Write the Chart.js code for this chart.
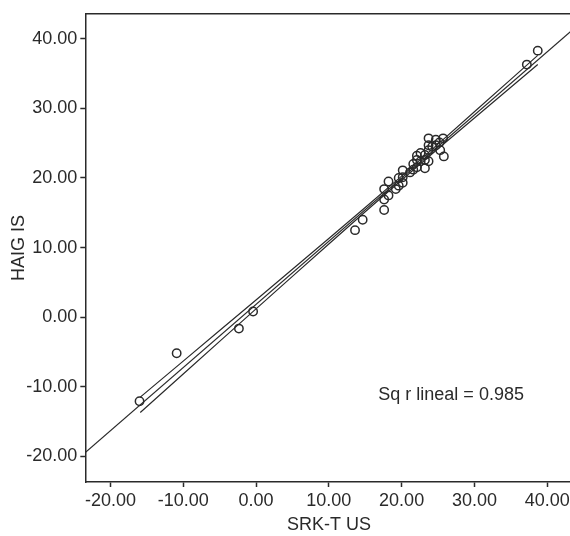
<!DOCTYPE html>
<html>
<head>
<meta charset="utf-8">
<script src="https://cdn.jsdelivr.net/npm/chart.js@4/dist/chart.umd.min.js"></script>
<style>
  html, body { margin: 0; padding: 0; background: #fff; }
  #wrap { width: 570px; height: 536px; overflow: hidden; }
</style>
</head>
<body>
<div id="wrap"><canvas id="scatterChart" width="586" height="536"></canvas></div>
<script>
// observed values, SRK-T US vs HAIG IS
const srktUs = [-16.0, -10.9, -2.35, -0.4, 13.6, 14.65, 17.6, 17.6, 18.2, 17.6,
    18.2, 19.2, 19.6, 19.6, 20.15, 20.15, 20.15, 21.15, 21.6, 21.6,
    22.1, 22.1, 22.1, 22.6, 22.6, 23.2, 23.2, 23.2, 23.7, 23.7,
    23.7, 23.7, 24.2, 24.7, 24.7, 25.2, 25.3, 25.7, 25.8, 37.2, 38.7];
const haigIs = [-12.1, -5.2, -1.65, 0.8, 12.5, 14.0, 15.4, 16.9, 17.5, 18.4,
    19.5, 18.4, 18.9, 20.0, 19.3, 20.1, 21.1, 20.8, 21.2, 22.0,
    21.55, 22.6, 23.2, 23.6, 22.4, 21.4, 22.6, 23.3, 22.4, 24.0,
    24.7, 25.7, 24.5, 25.5, 24.7, 25.1, 24.0, 25.7, 23.1, 36.3, 38.3];

// fit line (whole axis) and 95% mean band
const fitX = [-23.5, 43.5];
const fitY = [-19.5, 41.3];
const bandX = [-15.9, -10, -5, 0, 5, 10, 15, 20, 25, 30, 35, 38.7];
const bandUpper = [-11.5, -6.33, -1.93, 2.47, 6.88, 11.3, 15.76, 20.27, 24.86, 29.51, 34.17, 37.63];
const bandLower = [-13.7, -8.17, -3.49, 1.19, 5.86, 10.52, 15.14, 19.71, 24.2, 28.63, 33.05, 36.31];

const xTicks = [-20, -10, 0, 10, 20, 30, 40];
const yTicks = [-20, -10, 0, 10, 20, 30, 40];
const rSquaredLabel = 'Sq r lineal = 0.985';

const ink = '#2a2a2a';

function toPoints(xs, ys) {
    return xs.map((x, i) => ({ x: x, y: ys[i] }));
}

const lineStyle = {
    showLine: true,
    pointRadius: 0,
    borderColor: ink,
    borderWidth: 1.2,
    fill: false
};

// top edge of the box + r squared note
const framePlugin = {
    id: 'frame',
    afterDraw(chart) {
        const { ctx, chartArea, scales } = chart;
        ctx.save();
        ctx.strokeStyle = ink;
        ctx.lineWidth = 1.5;
        ctx.beginPath();
        ctx.moveTo(chartArea.left, chartArea.top);
        ctx.lineTo(chart.width, chartArea.top);
        ctx.stroke();
        ctx.fillStyle = ink;
        ctx.font = '18px "Liberation Sans", Arial, sans-serif';
        ctx.textAlign = 'left';
        ctx.textBaseline = 'middle';
        ctx.fillText(rSquaredLabel, scales.x.getPixelForValue(16.8), scales.y.getPixelForValue(-11.2));
        ctx.restore();
    }
};

Chart.defaults.font.family = '"Liberation Sans", Arial, sans-serif';
Chart.defaults.font.size = 18;
Chart.defaults.color = ink;

const ctx = document.getElementById('scatterChart').getContext('2d');
const scatterChart = new Chart(ctx, {
    type: 'scatter',
    data: {
        datasets: [
            {
                label: 'HAIG IS',
                data: toPoints(srktUs, haigIs),
                pointStyle: 'circle',
                pointRadius: 4.2,
                pointBorderWidth: 1.5,
                pointBorderColor: ink,
                pointBackgroundColor: 'rgba(0,0,0,0)',
                order: 0
            },
            Object.assign({ label: 'fit', data: toPoints(fitX, fitY), order: 1 }, lineStyle),
            Object.assign({ label: 'upper', data: toPoints(bandX, bandUpper), order: 2 }, lineStyle),
            Object.assign({ label: 'lower', data: toPoints(bandX, bandLower), order: 3 }, lineStyle)
        ]
    },
    options: {
        responsive: false,
        animation: false,
        layout: { padding: { top: 9, right: 13.3, left: 0, bottom: 0 } },
        plugins: {
            legend: { display: false },
            tooltip: { enabled: false }
        },
        scales: {
            x: {
                type: 'linear',
                min: -23.45,
                max: 43.5,
                afterBuildTicks: (scale) => { scale.ticks = xTicks.map(v => ({ value: v })); },
                afterFit: (scale) => { scale.height = 54; },
                ticks: {
                    padding: 3,
                    maxRotation: 0,
                    callback: (v) => Number(v).toFixed(2)
                },
                grid: { drawOnChartArea: false, drawTicks: true, tickLength: 5, tickWidth: 1.5, color: ink },
                border: { display: true, color: ink, width: 1.5 },
                title: { display: true, text: 'SRK-T US', padding: { top: 0, bottom: 0 } }
            },
            y: {
                type: 'linear',
                min: -23.7,
                max: 43.6,
                afterBuildTicks: (scale) => { scale.ticks = yTicks.map(v => ({ value: v })); },
                afterFit: (scale) => { scale.width = 85.3; },
                ticks: {
                    padding: 3,
                    callback: (v) => Number(v).toFixed(2)
                },
                grid: { drawOnChartArea: false, drawTicks: true, tickLength: 5, tickWidth: 1.5, color: ink },
                border: { display: true, color: ink, width: 1.5 },
                title: { display: true, text: 'HAIG IS', padding: { top: 8, bottom: 0 } }
            }
        }
    },
    plugins: [framePlugin]
});
</script>
</body>
</html>
